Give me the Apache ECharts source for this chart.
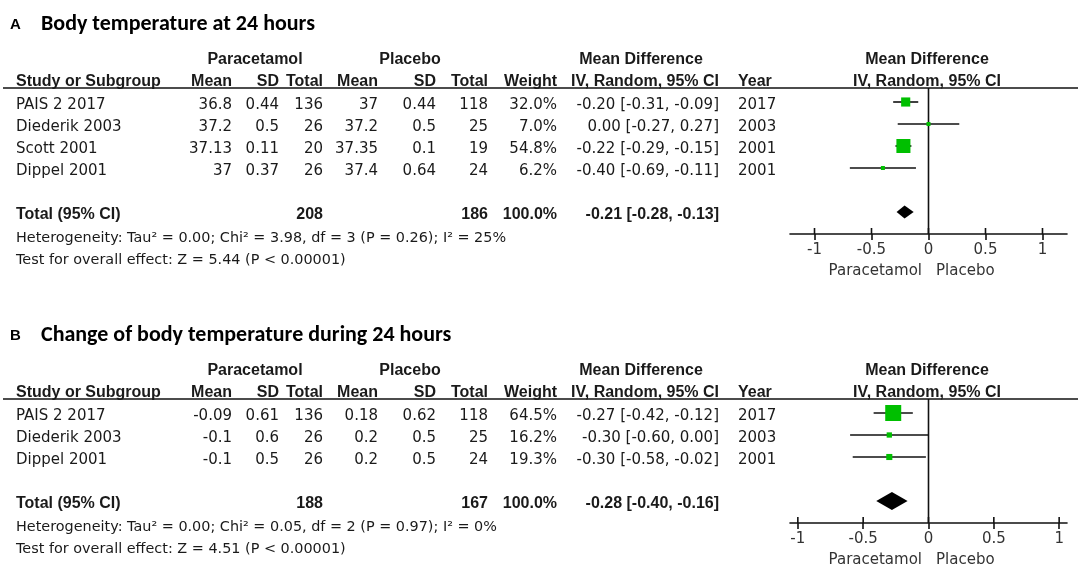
<!DOCTYPE html>
<html><head><meta charset="utf-8">
<script src="https://cdn.jsdelivr.net/npm/echarts@6/dist/echarts.min.js"></script>
<style>html,body{margin:0;padding:0;background:#fff}#c{width:1084px;height:575px}</style>
</head><body><div id="c"></div>
<script>
// ---------- Panel A: Body temperature at 24 hours ----------
const studiesA  = ['PAIS 2 2017', 'Diederik 2003', 'Scott 2001', 'Dippel 2001'];
const paraMeanA = [36.8, 37.2, 37.13, 37];
const paraSdA   = [0.44, 0.5, 0.11, 0.37];
const paraNA    = [136, 26, 20, 26];
const placMeanA = [37, 37.2, 37.35, 37.4];
const placSdA   = [0.44, 0.5, 0.1, 0.64];
const placNA    = [118, 25, 19, 24];
const weightA   = [32.0, 7.0, 54.8, 6.2];
const mdA       = [-0.20, 0.00, -0.22, -0.40];
const loA       = [-0.31, -0.27, -0.29, -0.69];
const hiA       = [-0.09, 0.27, -0.15, -0.11];
const yearA     = [2017, 2003, 2001, 2001];
const totalsA   = [208, 186, 100.0, -0.21, -0.28, -0.13]; // paraN, placN, weight, md, lo, hi
const hetA  = 'Heterogeneity: Tau\u00b2 = 0.00; Chi\u00b2 = 3.98, df = 3 (P = 0.26); I\u00b2 = 25%';
const testA = 'Test for overall effect: Z = 5.44 (P < 0.00001)';

// ---------- Panel B: Change of body temperature during 24 hours ----------
const studiesB  = ['PAIS 2 2017', 'Diederik 2003', 'Dippel 2001'];
const paraMeanB = [-0.09, -0.1, -0.1];
const paraSdB   = [0.61, 0.6, 0.5];
const paraNB    = [136, 26, 26];
const placMeanB = [0.18, 0.2, 0.2];
const placSdB   = [0.62, 0.5, 0.5];
const placNB    = [118, 25, 24];
const weightB   = [64.5, 16.2, 19.3];
const mdB       = [-0.27, -0.30, -0.30];
const loB       = [-0.42, -0.60, -0.58];
const hiB       = [-0.12, 0.00, -0.02];
const yearB     = [2017, 2003, 2001];
const totalsB   = [188, 167, 100.0, -0.28, -0.40, -0.16];
const hetB  = 'Heterogeneity: Tau\u00b2 = 0.00; Chi\u00b2 = 0.05, df = 2 (P = 0.97); I\u00b2 = 0%';
const testB = 'Test for overall effect: Z = 4.51 (P < 0.00001)';

// ---------- shared labels ----------
const tickValues = [-1, -0.5, 0, 0.5, 1];
const colHeaders = ['Mean', 'SD', 'Total', 'Mean', 'SD', 'Total', 'Weight', 'IV, Random, 95% CI'];

// ---------- rendering ----------
const FONT_R = '"DejaVu Sans", sans-serif';
const FONT_B = '"Liberation Sans", Arial, sans-serif';
const maxW = Math.max(...weightA, ...weightB);
function sizeFor(w) { return Math.max(4, 16 * Math.pow(w / maxW, 0.8)); }
function fmtCI(m, l, h) { return m.toFixed(2) + ' [' + l.toFixed(2) + ', ' + h.toFixed(2) + ']'; }
function txt(x, y, s, o) {
  o = o || {};
  const al = o.align || 'left';
  return { type: 'text', x: x, y: y, silent: true, z: 10,
    style: { text: s, font: (o.bold ? 'bold ' : '') + (o.size || (o.bold ? 16 : 15)) + 'px ' + (o.family || (o.bold ? FONT_B : FONT_R)),
      fill: o.color || '#1a1a1a', textAlign: al, align: al, textVerticalAlign: 'middle', verticalAlign: 'middle' } };
}

const colR = [232, 279, 323, 378, 436, 488, 557, 719];
const YEAR_L = 738, STUDY_L = 16, PLOT_L = 790, PLOT_W = 277, PLOT_C = 927;

const graphics = [];
const grids = [], xAxes = [], yAxes = [], series = [];

function buildPanel(pi, letter, title, dy, studies, pm, ps, pn, cm, cs, cn, w, md, lo, hi, yr, tot, het, test, range, diamondH) {
  const n = studies.length;
  const lineY = 88 + dy;
  const rowY = i => 105 + dy + 22 * i;
  const markerOff = -3;
  const totalY = rowY(n + 1);
  const axisY = totalY + 19;

  // title
  graphics.push(txt(10, 25 + dy, letter, { bold: true, size: 15, color: '#000' }));
  graphics.push(txt(41, 24 + dy, title, { bold: true, size: 22, family: 'Carlito, Lato, sans-serif', color: '#000' }));
  // group headers
  graphics.push(txt(255, 60 + dy, 'Paracetamol', { bold: true, align: 'center' }));
  graphics.push(txt(410, 60 + dy, 'Placebo', { bold: true, align: 'center' }));
  graphics.push(txt(641, 60 + dy, 'Mean Difference', { bold: true, align: 'center' }));
  graphics.push(txt(PLOT_C, 60 + dy, 'Mean Difference', { bold: true, align: 'center' }));
  // column headers
  graphics.push(txt(STUDY_L, 82 + dy, 'Study or Subgroup', { bold: true }));
  colHeaders.forEach((h, k) => graphics.push(txt(colR[k], 82 + dy, h, { bold: true, align: 'right' })));
  graphics.push(txt(YEAR_L, 82 + dy, 'Year', { bold: true }));
  graphics.push(txt(PLOT_C, 82 + dy, 'IV, Random, 95% CI', { bold: true, align: 'center' }));
  // header rule
  graphics.push({ type: 'line', silent: true, z: 5, shape: { x1: 3, y1: lineY, x2: 1078, y2: lineY }, style: { stroke: '#111', lineWidth: 1.6 } });
  // study rows
  studies.forEach((s, i) => {
    const y = rowY(i);
    graphics.push(txt(STUDY_L, y, s));
    const cells = [String(pm[i]), String(ps[i]), String(pn[i]), String(cm[i]), String(cs[i]), String(cn[i]),
      w[i].toFixed(1) + '%', fmtCI(md[i], lo[i], hi[i])];
    cells.forEach((c, k) => graphics.push(txt(colR[k], y, c, { align: 'right' })));
    graphics.push(txt(YEAR_L, y, String(yr[i])));
  });
  // total row
  graphics.push(txt(STUDY_L, totalY, 'Total (95% CI)', { bold: true }));
  graphics.push(txt(colR[2], totalY, String(tot[0]), { bold: true, align: 'right' }));
  graphics.push(txt(colR[5], totalY, String(tot[1]), { bold: true, align: 'right' }));
  graphics.push(txt(colR[6], totalY, tot[2].toFixed(1) + '%', { bold: true, align: 'right' }));
  graphics.push(txt(colR[7], totalY, fmtCI(tot[3], tot[4], tot[5]), { bold: true, align: 'right' }));
  graphics.push(txt(STUDY_L, totalY + 23, het, { size: 14.4 }));
  graphics.push(txt(STUDY_L, totalY + 45, test, { size: 14.4 }));
  // favours labels
  graphics.push(txt(PLOT_C - 5, axisY + 37, 'Paracetamol', { align: 'right', color: '#333' }));
  graphics.push(txt(PLOT_C + 9, axisY + 37, 'Placebo', { color: '#333' }));

  // plot
  const yMin = (lineY - (rowY(0) + markerOff)) / 22;
  const yMax = (axisY - (rowY(0) + markerOff)) / 22;
  grids.push({ left: PLOT_L, width: PLOT_W, top: lineY, height: axisY - lineY, containLabel: false });
  xAxes.push({ type: 'value', gridIndex: pi, min: -range, max: range, position: 'bottom', splitLine: { show: false },
    axisLine: { show: true, onZero: false, lineStyle: { color: '#111', width: 1.6 } },
    axisTick: { show: true, inside: false, length: 6, customValues: tickValues, lineStyle: { color: '#111', width: 1.6 } },
    axisLabel: { show: true, customValues: tickValues, margin: 9, color: '#333', fontSize: 15, fontFamily: 'DejaVu Sans', formatter: v => String(v) }
  });
  yAxes.push({ type: 'value', gridIndex: pi, min: yMin, max: yMax, inverse: true, show: false });
  // zero line
  series.push({ type: 'line', xAxisIndex: pi, yAxisIndex: pi, data: [[0, yMin], [0, yMax]], symbol: 'none', silent: true,
    lineStyle: { color: '#111', width: 1.6 }, z: 1, animation: false });
  // upper half of the axis ticks (ticks cross the axis line)
  series.push({ type: 'custom', xAxisIndex: pi, yAxisIndex: pi, clip: false, silent: true, animation: false, z: 2,
    data: tickValues.map(v => [v, yMax]),
    renderItem: function (params, api) {
      const p = api.coord([api.value(0), api.value(1)]);
      return { type: 'line', shape: { x1: p[0], y1: p[1] - 6, x2: p[0], y2: p[1] }, style: { stroke: '#111', lineWidth: 1.6 } };
    } });
  // study markers
  series.push({ type: 'custom', xAxisIndex: pi, yAxisIndex: pi, clip: false, silent: true, animation: false, z: 3,
    data: md.map((m, i) => [m, lo[i], hi[i], i, w[i]]),
    renderItem: function (params, api) {
      const p = api.coord([api.value(0), api.value(3)]);
      const l = api.coord([api.value(1), api.value(3)]);
      const h = api.coord([api.value(2), api.value(3)]);
      const s = sizeFor(api.value(4));
      return { type: 'group', children: [
        { type: 'line', shape: { x1: l[0], y1: p[1], x2: h[0], y2: p[1] }, style: { stroke: '#111', lineWidth: 1.6 } },
        { type: 'rect', shape: { x: p[0] - s / 2, y: p[1] - s / 2, width: s, height: s }, style: { fill: '#00bf00' } }
      ] };
    } });
  // pooled diamond
  series.push({ type: 'custom', xAxisIndex: pi, yAxisIndex: pi, clip: false, silent: true, animation: false, z: 3,
    data: [[tot[3], tot[4], tot[5], n + 1]],
    renderItem: function (params, api) {
      const c = api.coord([api.value(0), api.value(3)]);
      const l = api.coord([api.value(1), api.value(3)]);
      const r = api.coord([api.value(2), api.value(3)]);
      const hh = diamondH / 2;
      return { type: 'polygon', shape: { points: [[l[0], c[1]], [c[0], c[1] - hh], [r[0], c[1]], [c[0], c[1] + hh]] }, style: { fill: '#000' } };
    } });
}

buildPanel(0, 'A', 'Body temperature at 24 hours', 0, studiesA, paraMeanA, paraSdA, paraNA, placMeanA, placSdA, placNA,
  weightA, mdA, loA, hiA, yearA, totalsA, hetA, testA, 1.215, 13);
buildPanel(1, 'B', 'Change of body temperature during 24 hours', 311, studiesB, paraMeanB, paraSdB, paraNB, placMeanB, placSdB, placNB,
  weightB, mdB, loB, hiB, yearB, totalsB, hetB, testB, 1.06, 18);

const chart = echarts.init(document.getElementById('c'), null, { renderer: 'canvas' });
chart.setOption({
  animation: false,
  backgroundColor: '#fff',
  grid: grids,
  xAxis: xAxes,
  yAxis: yAxes,
  series: series,
  graphic: { elements: graphics }
});
</script>
</body></html>
